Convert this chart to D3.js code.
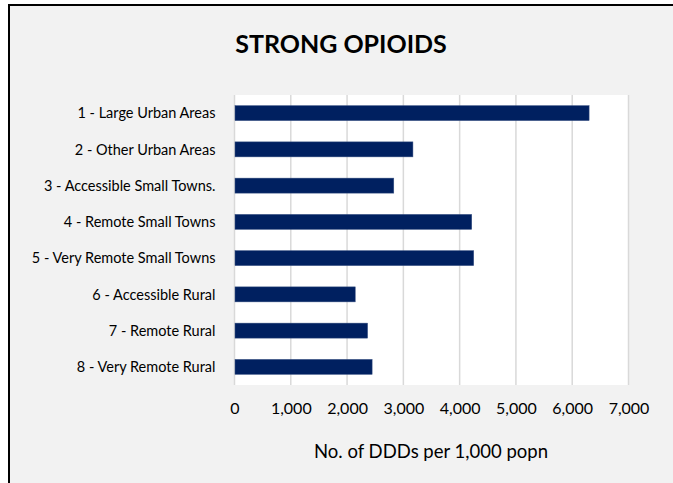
<!DOCTYPE html>
<html>
<head>
<meta charset="utf-8">
<script src="https://cdn.jsdelivr.net/npm/d3@7"></script>
<style>
  html, body { margin: 0; padding: 0; background: #ffffff; }
  svg { display: block; }
  text { font-family: Lato, "Open Sans", sans-serif; fill: #000; }
</style>
</head>
<body>
<svg id="chart" width="673" height="483"></svg>
<script>
// Strong opioid prescribing by urban/rural classification
const categories = [
  "1 - Large Urban Areas",
  "2 - Other Urban Areas",
  "3 - Accessible Small Towns.",
  "4 - Remote Small Towns",
  "5 - Very Remote Small Towns",
  "6 - Accessible Rural",
  "7 - Remote Rural",
  "8 - Very Remote Rural"
];
const values = [6300, 3170, 2830, 4215, 4250, 2145, 2365, 2445];
const tickValues = [0, 1000, 2000, 3000, 4000, 5000, 6000, 7000];
const chartTitle = "STRONG OPIOIDS";
const axisTitle = "No. of DDDs per 1,000 popn";

const svg = d3.select("#chart");
const W = 673, H = 483;

// chart frame
svg.append("rect").attr("x", 9).attr("y", 5).attr("width", W - 9).attr("height", H - 5)
  .attr("fill", "#f2f2f2");
svg.append("line").attr("x1", 9).attr("x2", 9).attr("y1", 4).attr("y2", H)
  .attr("stroke", "#000").attr("stroke-width", 2);
svg.append("line").attr("x1", 8).attr("x2", W).attr("y1", 5).attr("y2", 5)
  .attr("stroke", "#000").attr("stroke-width", 2);

const plot = { left: 234.5, right: 628.5, top: 95, bottom: 385 };

const x = d3.scaleLinear().domain([0, 7000]).range([plot.left, plot.right]);
const y = d3.scaleBand().domain(categories).range([plot.top, plot.bottom]).paddingInner(0.586).paddingOuter(0.293);

// plot area
svg.append("rect").attr("x", plot.left).attr("y", plot.top)
  .attr("width", plot.right - plot.left).attr("height", plot.bottom - plot.top)
  .attr("fill", "#ffffff");

// vertical gridlines
svg.append("g").selectAll("line").data(tickValues).join("line")
  .attr("x1", d => x(d)).attr("x2", d => x(d))
  .attr("y1", plot.top).attr("y2", plot.bottom)
  .attr("stroke", "#d9d9d9").attr("stroke-width", 1.5);

// bars
svg.append("g").selectAll("rect").data(values).join("rect")
  .attr("x", x(0) + 0.5)
  .attr("y", (d, i) => y(categories[i]))
  .attr("width", d => x(d) - x(0) - 0.5)
  .attr("height", y.bandwidth())
  .attr("fill", "#002060")
  .attr("stroke", "#3c5485").attr("stroke-width", 0.5);

// x axis tick labels
const fmt = d3.format(",");
const xAxis = d3.axisBottom(x).tickValues(tickValues).tickFormat(fmt).tickSize(0).tickPadding(0);
const gx = svg.append("g").attr("transform", `translate(0,${plot.bottom})`).call(xAxis);
gx.select(".domain").remove();
gx.selectAll("text")
  .attr("y", 29).attr("dy", 0)
  .style("font-family", "Lato, 'Open Sans', sans-serif")
  .style("font-size", "16px").attr("fill", "#262626");

// y axis category labels
const yAxis = d3.axisLeft(y).tickSize(0).tickPadding(19);
const gy = svg.append("g").attr("transform", `translate(${plot.left},0)`).call(yAxis);
gy.select(".domain").remove();
gy.selectAll("text")
  .attr("dy", "0.36em")
  .style("font-family", "Lato, 'Open Sans', sans-serif")
  .style("font-size", "14.5px").attr("fill", "#262626");

// titles
svg.append("text").attr("x", 341).attr("y", 53)
  .attr("text-anchor", "middle")
  .style("font-size", "25px").style("font-weight", "bold")
  .text(chartTitle);

svg.append("text").attr("x", 431).attr("y", 458)
  .attr("text-anchor", "middle")
  .style("font-size", "18.5px").attr("fill", "#262626")
  .text(axisTitle);
</script>
</body>
</html>
